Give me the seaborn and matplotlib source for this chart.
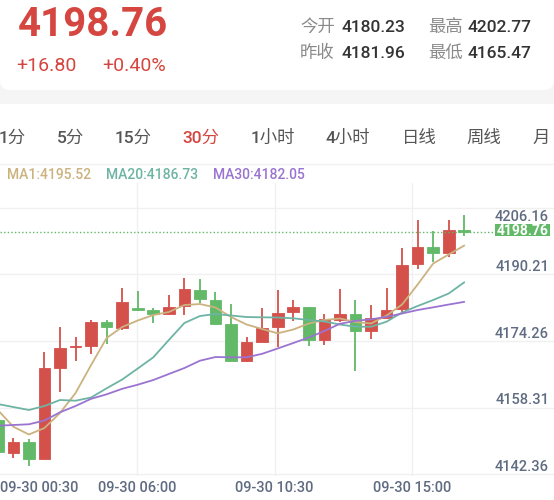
import numpy as np
import pandas as pd
import matplotlib
matplotlib.use("Agg")
import matplotlib.pyplot as plt
import matplotlib.transforms as mtransforms
from matplotlib.patches import FancyBboxPatch, Rectangle
import seaborn as sns

# ---------------- data ----------------
opens = [4153.78, 4145.96, 4148.59, 4144.38, 4166.15, 4171.18, 4171.56, 4177.30, 4175.87, 4180.51,
         4180.10, 4179.07, 4181.06, 4184.88, 4182.49, 4176.68, 4167.97, 4172.52, 4176.10, 4179.55,
         4180.89, 4172.92, 4177.71, 4179.07, 4175.08, 4178.11, 4180.34, 4191.03, 4195.10, 4193.81,
         4199.24]
highs = [4154.30, 4149.41, 4149.17, 4170.12, 4175.96, 4173.71, 4177.71, 4177.71, 4185.29, 4184.72,
         4180.51, 4183.69, 4187.68, 4187.44, 4184.33, 4181.54, 4173.71, 4180.51, 4184.88, 4182.49,
         4180.89, 4179.14, 4185.05, 4182.49, 4181.22, 4185.43, 4195.00, 4201.63, 4199.00, 4201.63,
         4202.77]
lows = [4145.90, 4144.62, 4142.78, 4144.38, 4160.55, 4167.97, 4169.57, 4171.97, 4175.32, 4179.90,
        4176.92, 4179.07, 4178.90, 4181.70, 4176.75, 4167.97, 4167.59, 4172.37, 4171.32, 4177.54,
        4171.56, 4171.73, 4177.30, 4165.47, 4173.09, 4178.11, 4179.07, 4189.84, 4191.51, 4192.85,
        4197.80]
closes = [4146.20, 4148.59, 4144.38, 4166.15, 4170.94, 4171.56, 4177.30, 4176.10, 4182.09, 4180.10,
          4179.07, 4180.89, 4185.05, 4182.66, 4176.75, 4167.97, 4172.37, 4175.72, 4179.31, 4180.89,
          4172.92, 4177.87, 4179.07, 4175.08, 4178.11, 4180.10, 4190.87, 4195.24, 4193.81, 4199.24,
          4198.76]
ma1 = [4156.18, 4152.18, 4150.32, 4151.87, 4155.46, 4160.24, 4166.94, 4173.40, 4176.03, 4177.59,
       4178.90, 4179.62, 4181.29, 4181.53, 4180.70, 4178.42, 4176.63, 4175.55, 4174.52, 4175.43,
       4176.87, 4177.71, 4178.07, 4177.23, 4176.87, 4178.78, 4181.41, 4186.20, 4191.22, 4193.38,
       4195.52]
ma20 = [4157.61, 4156.89, 4156.18, 4157.13, 4158.57, 4158.40, 4159.17, 4161.37, 4163.47, 4166.10,
        4168.78, 4172.92, 4176.99, 4178.66, 4179.14, 4178.78, 4178.42, 4178.35, 4178.30, 4178.11,
        4177.71, 4177.35, 4176.63, 4176.10, 4176.10, 4177.30, 4179.50, 4181.06, 4182.49, 4184.05,
        4186.73]
ma30 = [4152.42, 4152.59, 4152.76, 4153.66, 4155.63, 4157.13, 4158.86, 4159.93, 4161.25, 4162.23,
        4163.35, 4164.79, 4166.22, 4167.97, 4168.85, 4168.78, 4168.78, 4169.62, 4170.89, 4172.20,
        4173.52, 4175.07, 4176.80, 4177.51, 4177.87, 4178.47, 4179.26, 4180.10, 4180.74, 4181.41,
        4182.05]
y_tick_values = [4142.36, 4158.31, 4174.26, 4190.21, 4206.16]
x_tick_labels = ["09-30 00:30", "09-30 06:00", "09-30 10:30", "09-30 15:00"]
tabs = ["1分", "5分", "15分", "30分", "1小时", "4小时", "日线", "周线", "月"]
selected_tab = "30分"
last_price = 4198.76
change_abs = "+16.80"
change_pct = "+0.40%"
stats = [("今开", "4180.23"), ("最高", "4202.77"), ("昨收", "4181.96"), ("最低", "4165.47")]
ma_names = ["MA1", "MA20", "MA30"]

# ---------------- style ----------------
RED = "#d4504b"
GREEN = "#62b967"
PRICE_RED = "#d4463f"
MA_COLORS = {"MA1": "#cbb27f", "MA20": "#6db4a4", "MA30": "#9a74d0"}
GRID = "#f0f0f0"
AXIS_TXT = "#5f6b80"

sns.set_theme(style="white")
plt.rcParams["font.family"] = ["Roboto", "Noto Sans CJK SC", "DejaVu Sans"]

W, H = 554, 500
fig = plt.figure(figsize=(W / 100, H / 100), dpi=100, facecolor="white")

# background axes in pixel coordinates
bg = fig.add_axes([0, 0, 1, 1], zorder=0)
bg.set_xlim(0, W)
bg.set_ylim(H, 0)
bg.axis("off")
bg.add_patch(Rectangle((0, 78), W, 26, fc="#f5f5f5", ec="none"))
bg.add_patch(FancyBboxPatch((0, -30), W, 120, boxstyle="round,pad=0,rounding_size=10",
                            fc="white", ec="none"))
bg.plot([0, W], [164, 164], color="#f2f2f2", lw=1)

# header
bg.text(18, 36, f"{last_price:.2f}", fontsize=29, fontweight="bold", color=PRICE_RED,
        ha="left", va="baseline")
bg.text(16, 71, change_abs, fontsize=14, color=PRICE_RED, ha="left", va="baseline")
bg.text(102, 71, change_pct, fontsize=14, color=PRICE_RED, ha="left", va="baseline")
stat_pos = [(300, 341, 31.8), (428, 468, 31.8), (300, 341, 58.3), (428, 468, 58.3)]
for (lab, val), (xl, xv, yb) in zip(stats, stat_pos):
    bg.text(xl, yb, lab, fontsize=12.5, color="#8a8a8a", ha="left", va="baseline")
    bg.text(xv, yb, val, fontsize=12.5, color="#333333", ha="left", va="baseline",
            fontweight="medium")

tab_x = [-1, 57, 115, 182, 251, 325, 402, 466, 532]
for t, x in zip(tabs, tab_x):
    bg.text(x, 142.9, t, fontsize=12.5, color=(PRICE_RED if t == selected_tab else "#555555"),
            ha="left", va="baseline", fontweight="medium")

ma_last = [ma1[-1], ma20[-1], ma30[-1]]
for name, val, x in zip(ma_names, ma_last, [7, 106, 213]):
    bg.text(x, 179, f"{name}:{val:.2f}", fontsize=10, color=MA_COLORS[name],
            ha="left", va="baseline", fontweight="medium")

# ---------------- main chart ----------------
top_px, bot_px = 183, 476
ax = fig.add_axes([0, (H - bot_px) / H, 1, (bot_px - top_px) / H], zorder=1)
ax.set_facecolor("none")
for s in ax.spines.values():
    s.set_visible(False)
ax.set_xticks([])
ax.set_yticks([])
XLIM = (0.1415, 35.77)
YLIM = (4140.39, 4210.48)

blend = mtransforms.blended_transform_factory(ax.transAxes, ax.transData)
grid_offset = 1.58
grid_vals = [v - grid_offset for v in y_tick_values]
for g in grid_vals:
    ax.axhline(g, color=GRID, lw=1, zorder=0)
grid_fracs = [137.3 / W, 274.5 / W, 411.8 / W]
for f in grid_fracs:
    ax.plot([f, f], [0, 1], transform=ax.transAxes, color=GRID, lw=1, zorder=0)

# candles
idx = np.arange(len(opens))
o = np.array(opens); c = np.array(closes)
cols = [RED if cc >= oo else GREEN for oo, cc in zip(o, c)]
ax.vlines(idx, lows, highs, colors=cols, lw=1.3, zorder=2)
ax.bar(idx, np.abs(c - o), bottom=np.minimum(o, c), width=0.75, color=cols,
       edgecolor=cols, linewidth=0.6, zorder=3)

# moving averages with seaborn
df = pd.DataFrame({
    "k": np.concatenate([idx, idx, idx]),
    "value": ma1 + ma20 + ma30,
    "line": ["MA1"] * len(ma1) + ["MA20"] * len(ma20) + ["MA30"] * len(ma30),
})
sns.lineplot(data=df, x="k", y="value", hue="line", palette=MA_COLORS, linewidth=1.3,
             legend=False, errorbar=None, ax=ax, zorder=4)
ax.set_xlabel("")
ax.set_ylabel("")
ax.set_xlim(*XLIM)
ax.set_ylim(*YLIM)

# last price line & tag
label_right = 550 / W
box_left = 495 / W
ax.axhline(last_price, xmin=0, xmax=box_left, color=GREEN, lw=1, ls=(0, (1, 1.6)), zorder=5)
box_h = 12.5 * (YLIM[1] - YLIM[0]) / (bot_px - top_px)
box_c = last_price + 0.45
ax.add_patch(Rectangle((box_left, box_c - box_h / 2), label_right - box_left, box_h,
                       transform=blend, fc=GREEN, ec="none", zorder=6, clip_on=False))

# y labels
for i, (t, g) in enumerate(zip(y_tick_values, grid_vals)):
    off = -9.4 if i == len(y_tick_values) - 1 else 2.4
    ax.annotate(f"{t:.2f}", xy=(549 / W, g), xycoords=blend, xytext=(0, off),
                textcoords="offset points", ha="right", va="baseline", fontsize=10.5,
                color=AXIS_TXT, zorder=6, fontweight="medium")
ax.annotate(f"{last_price:.2f}", xy=((box_left + label_right) / 2, box_c), xycoords=blend,
            xytext=(0, -3.7), textcoords="offset points", ha="center", va="baseline",
            fontsize=10, color="white", zorder=7, fontweight="bold")

# x labels
x_fracs = [0.0] + grid_fracs
for i, (lab, f) in enumerate(zip(x_tick_labels, x_fracs)):
    ax.annotate(lab, xy=(f, 0), xycoords="axes fraction", xytext=(0, -11.3),
                textcoords="offset points", ha=("left" if i == 0 else "center"),
                va="baseline", fontsize=10.5, color=AXIS_TXT, annotation_clip=False,
                fontweight="medium")

fig.savefig("out.png", dpi=100, facecolor="white")
